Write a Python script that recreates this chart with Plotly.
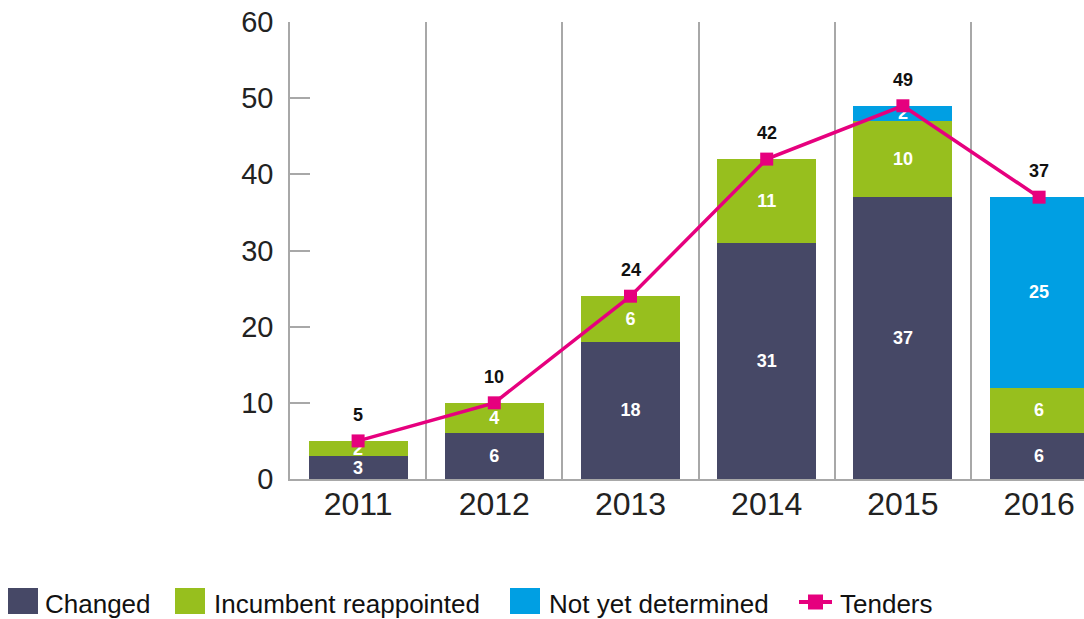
import plotly.graph_objects as go

years = ["2011", "2012", "2013", "2014", "2015", "2016"]
changed = [3, 6, 18, 31, 37, 6]
incumbent = [2, 4, 6, 11, 10, 6]
not_determined = [0, 0, 0, 0, 2, 25]
tenders = [5, 10, 24, 42, 49, 37]

C_CHANGED = "#464866"
C_INCUMB = "#97BF1E"
C_NOTDET = "#009FE3"
C_TENDER = "#E6007E"
GRID = "#A8A8A8"
FONT = "Liberation Sans, Arial, Helvetica, sans-serif"

xs = list(range(len(years)))

def labels(vals):
    return [str(v) if v else "" for v in vals]

fig = go.Figure()
for name, vals, col in [("Changed", changed, C_CHANGED),
                        ("Incumbent reappointed", incumbent, C_INCUMB),
                        ("Not yet determined", not_determined, C_NOTDET)]:
    fig.add_trace(go.Bar(
        x=xs, y=vals, name=name, marker=dict(color=col, line=dict(width=0)),
        width=0.727, text=labels(vals), textposition="inside",
        insidetextanchor="middle", textangle=0, constraintext="none",
        textfont=dict(color="white", size=18, family=FONT, weight="bold"),
        cliponaxis=True, showlegend=False, hoverinfo="skip"))

fig.add_trace(go.Scatter(
    x=xs, y=tenders, name="Tenders", mode="lines+markers",
    line=dict(color=C_TENDER, width=3.5),
    marker=dict(symbol="square", size=13, color=C_TENDER),
    showlegend=False, cliponaxis=False))

for x, v in zip(xs, tenders):
    fig.add_annotation(x=x, y=v, text=f"<b>{v}</b>", showarrow=False,
                       yshift=26, font=dict(size=18, color="#111", family=FONT))

# custom legend (large square swatches)
W, H = 1084, 619
L, T, B = 290, 22, 140
PW, PH = W - L, H - T - B

def px(x):
    return (x - L) / PW

def py(y):
    return (H - B - y) / PH

items = [(8, C_CHANGED, "Changed", 43), (175, C_INCUMB, "Incumbent reappointed", 212),
         (510, C_NOTDET, "Not yet determined", 547)]
for x0, col, txt, tx in items:
    fig.add_shape(type="rect", xref="paper", yref="paper",
                  x0=px(x0), x1=px(x0 + 30), y0=py(614), y1=py(588),
                  fillcolor=col, line=dict(width=0))
    fig.add_annotation(xref="paper", yref="paper", x=px(tx), y=py(604),
                       xanchor="left", yanchor="middle", text=txt,
                       showarrow=False, font=dict(size=26, color="#111", family=FONT))
# Tenders legend symbol
fig.add_shape(type="line", xref="paper", yref="paper",
              x0=px(799), x1=px(832), y0=py(602), y1=py(602),
              line=dict(color=C_TENDER, width=4))
fig.add_shape(type="rect", xref="paper", yref="paper",
              x0=px(808), x1=px(823), y0=py(609.5), y1=py(594.5),
              fillcolor=C_TENDER, line=dict(width=0))
fig.add_annotation(xref="paper", yref="paper", x=px(838), y=py(604),
                   xanchor="left", yanchor="middle", text="Tenders",
                   showarrow=False, font=dict(size=26, color="#111", family=FONT))

fig.update_layout(
    width=W, height=H, barmode="stack",
    margin=dict(l=L, r=0, t=T, b=B),
    plot_bgcolor="white", paper_bgcolor="white",
    font=dict(family=FONT, color="#222"),
    showlegend=False,
    xaxis=dict(range=[-0.5, -0.5 + PW / 136.2], tickmode="array",
               tickvals=xs, ticktext=years, showgrid=False, zeroline=False,
               showline=True, linecolor=GRID, linewidth=1.5, ticks="",
               tickfont=dict(size=32, color="#222", family=FONT),
               ticklabelstandoff=-4,
               minor=dict(tickmode="array", tickvals=[i + 0.5 for i in xs[:-1]],
                          showgrid=True, gridcolor=GRID, gridwidth=1.5, ticks="")),
    yaxis=dict(range=[0, 60], tickmode="linear", dtick=10, tick0=0,
               showgrid=False, zeroline=False, showline=True, linecolor=GRID,
               linewidth=1.5, ticks="inside", ticklen=20, tickcolor=GRID,
               tickwidth=1.5, ticklabelstandoff=9,
               tickfont=dict(size=29, color="#222", family=FONT)),
)

fig.write_html("out.html", config={"displayModeBar": False},
               post_script="document.body.style.margin='0';document.body.style.overflow='hidden';")
